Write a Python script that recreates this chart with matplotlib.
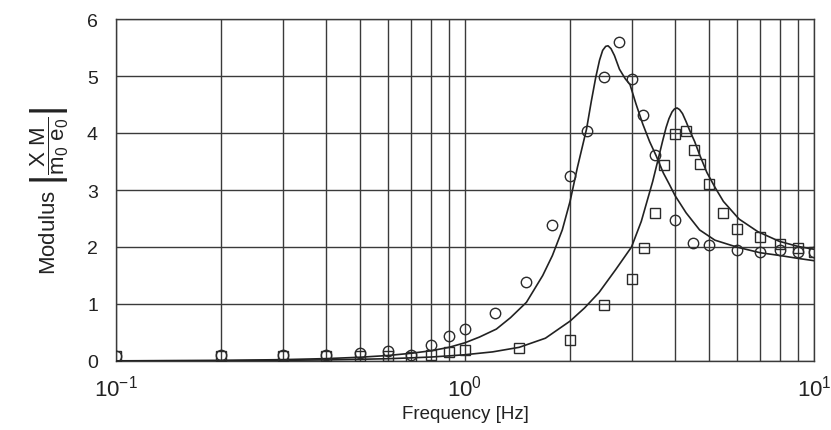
import matplotlib
matplotlib.use("Agg")
import matplotlib.pyplot as plt
import numpy as np

plt.rcParams['font.family'] = ['Liberation Sans', 'DejaVu Sans']
plt.rcParams['mathtext.fontset'] = 'custom'
plt.rcParams['mathtext.rm'] = 'Liberation Sans'
plt.rcParams['mathtext.it'] = 'Liberation Sans:italic'
plt.rcParams['mathtext.sf'] = 'Liberation Sans'

# measured data: circles
circ_f = [0.1, 0.2, 0.3, 0.4, 0.5, 0.6, 0.7, 0.8, 0.9, 1.0, 1.22, 1.5, 1.78, 2.0,
          2.23, 2.5, 2.77, 3.0, 3.23, 3.5, 4.0, 4.5, 5.0, 6.0, 7.0, 8.0, 9.0, 10.0]
circ_v = [0.08, 0.1, 0.1, 0.1, 0.14, 0.18, 0.1, 0.28, 0.43, 0.56, 0.84, 1.38, 2.38, 3.25,
          4.03, 4.98, 5.6, 4.95, 4.32, 3.61, 2.48, 2.07, 2.04, 1.94, 1.92, 1.94, 1.92, 1.91]

# measured data: squares
sq_f = [0.1, 0.2, 0.3, 0.4, 0.5, 0.6, 0.7, 0.8, 0.9, 1.0, 1.43, 2.0, 2.5, 3.0, 3.25, 3.5,
        3.72, 4.0, 4.29, 4.54, 4.72, 5.0, 5.5, 6.0, 7.0, 8.0, 9.0, 10.0]
sq_v = [0.08, 0.09, 0.09, 0.09, 0.08, 0.08, 0.07, 0.1, 0.16, 0.19, 0.23, 0.37, 0.99, 1.44,
        1.98, 2.59, 3.44, 3.99, 4.04, 3.70, 3.45, 3.10, 2.59, 2.31, 2.17, 2.05, 1.98, 1.92]

# fitted curve 1 (through circles)
fit1_f = [0.1, 0.2, 0.3, 0.4, 0.5, 0.6, 0.7, 0.8, 0.9, 1.0, 1.1, 1.23, 1.35, 1.5, 1.67, 1.78,
          1.9, 2.0, 2.1, 2.23, 2.3, 2.37, 2.43, 2.48, 2.53, 2.57, 2.62, 2.68, 2.77, 2.88, 2.97,
          3.09, 3.23, 3.38, 3.53, 3.7, 3.85, 4.0, 4.3, 4.7, 5.2, 6.0, 7.0, 8.0, 9.0, 10.0]
fit1_v = [0.003, 0.01, 0.024, 0.042, 0.066, 0.096, 0.135, 0.18, 0.24, 0.32, 0.42, 0.56, 0.76,
          1.03, 1.5, 1.85, 2.3, 2.8, 3.4, 4.07, 4.55, 4.98, 5.28, 5.45, 5.52, 5.53, 5.48, 5.36,
          5.12, 4.95, 4.85, 4.51, 4.16, 3.85, 3.6, 3.3, 3.1, 2.9, 2.6, 2.3, 2.12, 2.0, 1.9,
          1.85, 1.8, 1.76]

# fitted curve 2 (through squares)
fit2_f = [0.1, 0.2, 0.3, 0.4, 0.5, 0.6, 0.7, 0.8, 0.9, 1.0, 1.2, 1.43, 1.7, 2.0, 2.2, 2.42,
          2.7, 3.0, 3.2, 3.45, 3.58, 3.68, 3.77, 3.84, 3.92, 3.98, 4.05, 4.12, 4.2, 4.3, 4.4,
          4.55, 4.7, 4.93, 5.2, 5.5, 6.1, 6.9, 7.95, 9.0, 10.0]
fit2_v = [0.002, 0.006, 0.012, 0.02, 0.03, 0.04, 0.055, 0.07, 0.09, 0.11, 0.16, 0.24, 0.4,
          0.7, 0.93, 1.2, 1.6, 2.0, 2.45, 3.15, 3.55, 3.85, 4.1, 4.25, 4.37, 4.42, 4.44, 4.41,
          4.34, 4.2, 4.05, 3.85, 3.62, 3.31, 3.05, 2.8, 2.49, 2.27, 2.1, 2.01, 1.96]

y_ticks = [0, 1, 2, 3, 4, 5, 6]

fig = plt.figure(figsize=(8.31, 4.31), dpi=100)
ax = fig.add_axes([116 / 831, 1 - 362 / 431, (814 - 116) / 831, (362 - 20) / 431])

gc = '#3a3a3a'
tc = '#222222'
ax.set_xscale('log')
ax.set_xlim(0.1, 10)
ax.set_ylim(0, 6)
ax.set_yticks(y_ticks)
ax.grid(True, which='both', axis='x', color=gc, lw=1.0)
ax.grid(True, which='major', axis='y', color=gc, lw=1.0)
ax.set_axisbelow(True)
ax.tick_params(which='both', length=0, colors=tc)
ax.tick_params(axis='y', labelsize=14, pad=13)
ax.tick_params(axis='x', labelsize=16, pad=10)
for s in ax.spines.values():
    s.set_color(gc)
    s.set_linewidth(1.0)

ax.plot(fit1_f, fit1_v, color=tc, lw=1.2, zorder=3)
ax.plot(fit2_f, fit2_v, color=tc, lw=1.2, zorder=3)
ax.plot(circ_f, circ_v, ls='none', marker='o', ms=7.5, mfc='none', mec='#2a2a2a', mew=1.0, zorder=4)
ax.plot(sq_f, sq_v, ls='none', marker='s', ms=6.5, mfc='none', mec='#2a2a2a', mew=1.0, zorder=4)

ax.set_xlabel('Frequency [Hz]', fontsize=13.5, color=tc, labelpad=3)
ax.set_ylabel(r'Modulus $\left|\dfrac{\mathrm{X\ M}}{\mathrm{m_0\ e_0}}\right|$',
              fontsize=16, color=tc, labelpad=12)

fig.savefig('out.png', dpi=100)
